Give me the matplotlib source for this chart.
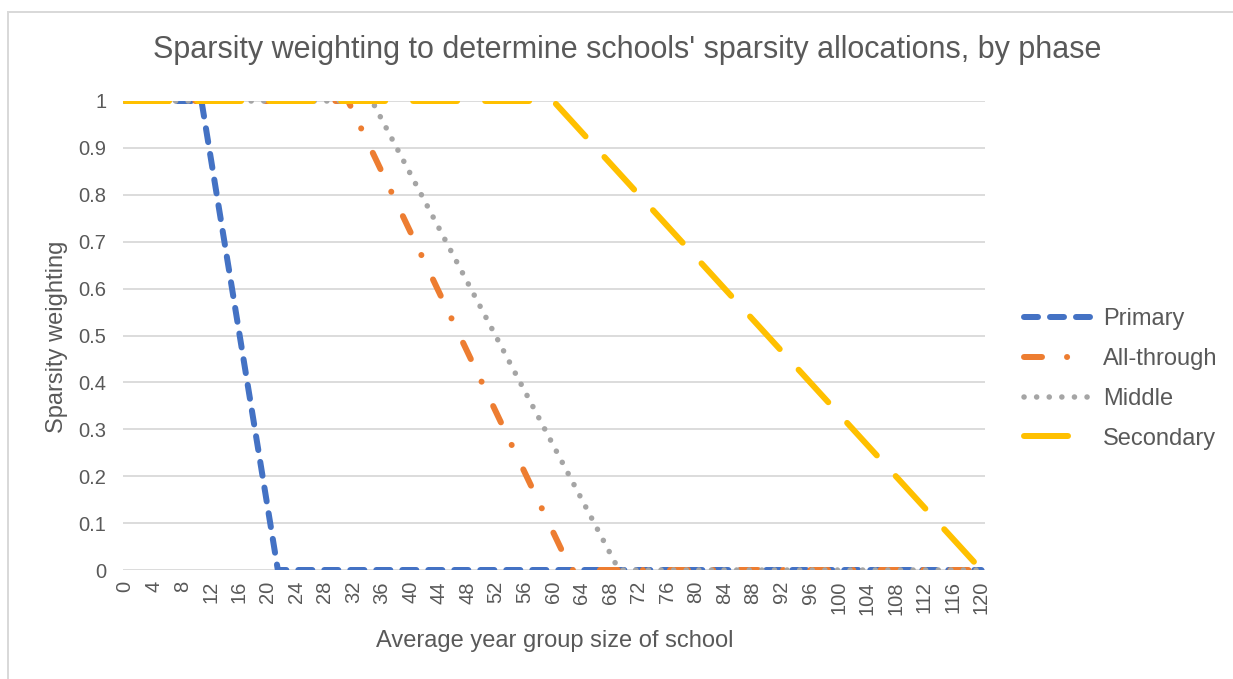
import numpy as np
import matplotlib
matplotlib.use("Agg")
import matplotlib.pyplot as plt
from matplotlib.lines import Line2D

plt.rcParams['font.family'] = ['Liberation Sans', 'DejaVu Sans']
plt.rcParams['lines.scale_dashes'] = False

# breakpoints of each weighting line
primary_x = [0, 10.7, 21.4, 120]
primary_y = [1, 1, 0, 0]
allthrough_x = [0, 31.25, 62.5, 120]
allthrough_y = [1, 1, 0, 0]
middle_x = [0, 34.6, 69.2, 120]
middle_y = [1, 1, 0, 0]
secondary_x = [0, 60, 120]
secondary_y = [1, 1, 0]

x_ticks = list(range(0, 121, 4))
y_ticks = [0, 0.1, 0.2, 0.3, 0.4, 0.5, 0.6, 0.7, 0.8, 0.9, 1]
y_labels = ["0", "0.1", "0.2", "0.3", "0.4", "0.5", "0.6", "0.7", "0.8", "0.9", "1"]

GREY = "#595959"
W, H = 1233, 679
PX = 72 / 100  # points per pixel at dpi 100

fig = plt.figure(figsize=(W / 100, H / 100), dpi=100)
ax = fig.add_axes([123 / W, 1 - 570 / H, (985 - 123) / W, (570 - 101) / H])

lw = 6 * PX
ax.plot(primary_x, primary_y, color="#4472C4", lw=lw, label="Primary",
        dash_capstyle="round", dashes=(14 * PX, 12 * PX))
ax.plot(allthrough_x, allthrough_y, color="#ED7D31", lw=lw, label="All-through",
        dash_capstyle="round",
        dashes=(18 * PX, 25 * PX, 0.1 * PX, 27 * PX))
ax.plot(middle_x, middle_y, color="#A5A5A5", lw=lw * 0.92, label="Middle",
        dash_capstyle="round", dashes=(0.1 * PX, 12.5 * PX))
ax.plot(secondary_x, secondary_y, color="#FFC000", lw=lw, label="Secondary",
        dash_capstyle="round", dashes=(44 * PX, 28 * PX))

ax.set_xlim(-0.3, 120.5)
ax.set_ylim(0, 1)
ax.set_xticks(x_ticks)
ax.set_xticklabels([str(t) for t in x_ticks], rotation=90)
ax.set_yticks(y_ticks)
ax.set_yticklabels(y_labels)
ax.tick_params(length=0, labelsize=14.5, colors=GREY)
ax.tick_params(axis="y", pad=12)
ax.tick_params(axis="x", pad=8)
ax.grid(axis="y", color="#D9D9D9", lw=1.8 * PX)
ax.set_axisbelow(True)
for s in ax.spines.values():
    s.set_visible(False)

ax.set_xlabel("Average year group size of school", fontsize=17, color=GREY,
              va="center")
ax.xaxis.set_label_coords((555 - 123) / 862, (570 - 641) / 469)
ax.set_ylabel("Sparsity weighting", fontsize=17, color=GREY, va="center")
ax.yaxis.set_label_coords((57 - 123) / 862, (570 - 337) / 469)

fig.text(627 / W, 1 - 50 / H,
         "Sparsity weighting to determine schools' sparsity allocations, by phase",
         ha="center", va="center", fontsize=22, color=GREY)

ax.legend(loc="center left", bbox_to_anchor=(1024 / W, 1 - 379 / H),
          bbox_transform=fig.transFigure, frameon=False, borderpad=0,
          borderaxespad=0, fontsize=17, labelcolor=GREY, handlelength=2.9,
          labelspacing=0.75, handletextpad=0.45)

# outer chart border
fig.add_artist(Line2D([7.5 / W, 7.5 / W], [0, 1 - 12 / H], color="#D9D9D9",
                      lw=2 * PX, transform=fig.transFigure))
fig.add_artist(Line2D([7.5 / W, 1], [1 - 12 / H, 1 - 12 / H], color="#D9D9D9",
                      lw=2 * PX, transform=fig.transFigure))

fig.savefig("out.png", dpi=100)
